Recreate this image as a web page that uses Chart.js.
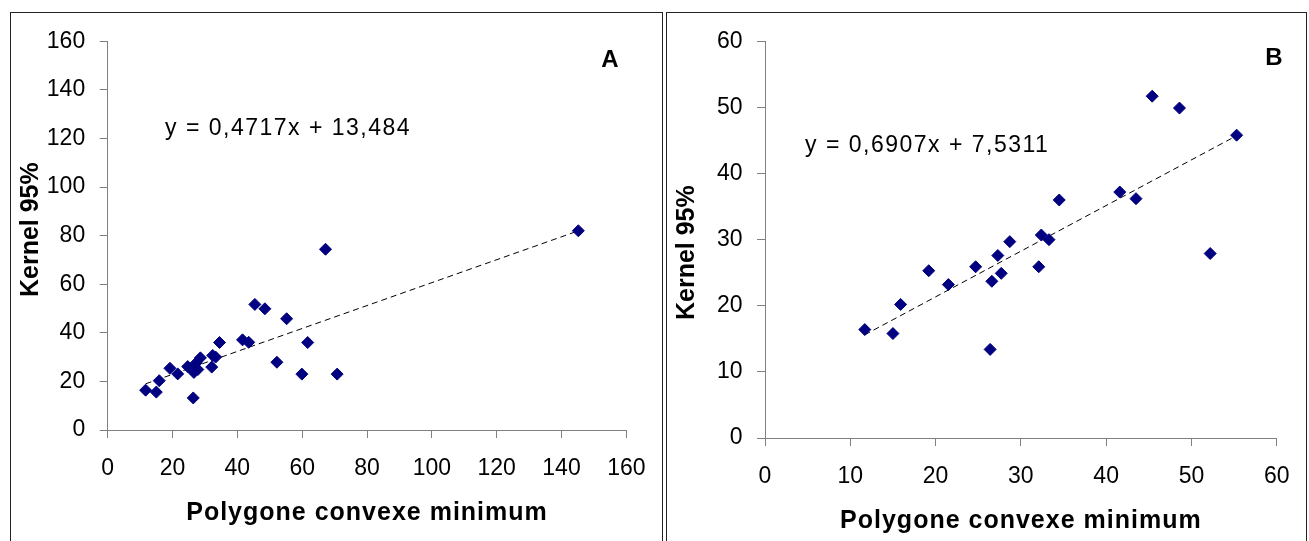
<!DOCTYPE html>
<html>
<head>
<meta charset="utf-8">
<script src="https://cdn.jsdelivr.net/npm/chart.js@4.4.1/dist/chart.umd.min.js"></script>
<style>
html, body { margin: 0; padding: 0; background: #fff; width: 1309px; height: 541px; overflow: hidden; }
.frame { position: absolute; border: 1px solid #222; border-bottom: none; box-sizing: border-box; }
#frameA { left: 10px; top: 12px; width: 653px; height: 540px; }
#frameB { left: 666px; top: 12px; width: 641px; height: 540px; }
canvas { position: absolute; }
#chartA { left: 11px; top: 13px; }
#chartB { left: 667px; top: 13px; }
</style>
</head>
<body>
<div class="frame" id="frameA"></div>
<div class="frame" id="frameB"></div>
<canvas id="chartA" width="651" height="528" style="width:651px;height:528px"></canvas>
<canvas id="chartB" width="639" height="528" style="width:639px;height:528px"></canvas>
<script>
// ---- Data ----
// Panel A : all home ranges
const xA = [11.7, 15.0, 15.9, 19.2, 21.6, 24.7, 26.4, 26.6, 27.3, 27.8, 28.6, 32.1, 32.4, 33.3, 34.5, 41.6, 43.5, 45.4, 48.5, 52.2, 55.2, 59.9, 61.7, 67.2, 70.8, 145.2];
const yA = [16.4, 15.6, 20.3, 25.4, 23.1, 26.1, 13.2, 23.7, 27.6, 24.9, 29.7, 25.9, 30.7, 30.0, 36.0, 37.1, 36.1, 51.7, 49.9, 27.9, 45.8, 23.0, 36.0, 74.4, 23.0, 82.0];
// Panel B : without the largest ranges
const xB = [11.7, 15.0, 15.9, 19.2, 21.5, 24.7, 26.4, 26.6, 27.3, 27.7, 28.7, 32.1, 32.4, 33.3, 34.5, 41.6, 43.5, 45.4, 48.6, 52.2, 55.3];
const yB = [16.4, 15.8, 20.2, 25.3, 23.2, 25.9, 13.4, 23.7, 27.6, 24.9, 29.7, 25.9, 30.7, 30.0, 36.0, 37.2, 36.2, 51.7, 49.9, 27.9, 45.8];

// Linear trend lines as printed on the charts
const slopeA = 0.4717, interceptA = 13.484;
const slopeB = 0.6907, interceptB = 7.5311;

// Tick labels
const ticksA = [0, 20, 40, 60, 80, 100, 120, 140, 160];
const ticksB = [0, 10, 20, 30, 40, 50, 60];

const xTitle = 'Polygone convexe minimum';
const yTitle = 'Kernel 95%';
const panelLabels = ['A', 'B'];

// ---- Rendering ----
const FONT = '"Liberation Sans", Arial, Helvetica, sans-serif';
const fmt = v => String(v).replace('.', ',');

function wrapTitle(scale, spacing, dx, dy) {
  if (!scale || scale._wrapped) return;
  const orig = scale.drawTitle.bind(scale);
  scale.drawTitle = function () {
    const c = this.ctx;
    c.save();
    c.letterSpacing = spacing;
    c.translate(dx, dy);
    orig();
    c.restore();
  };
  scale._wrapped = true;
}

const panelText = {
  id: 'panelText',
  afterLayout(chart, args, o) {
    wrapTitle(chart.scales.x, '1px', 0, 0);
    wrapTitle(chart.scales.y, '0px', 0, o.yTitleShift);
  },
  afterDraw(chart, args, o) {
    const ctx = chart.ctx;
    ctx.save();
    ctx.fillStyle = '#000';
    ctx.textBaseline = 'middle';
    ctx.textAlign = 'left';
    ctx.font = '23px ' + FONT;
    ctx.letterSpacing = '1.5px';
    ctx.fillText(o.equation, o.eqX, o.eqY);
    ctx.letterSpacing = '0px';
    ctx.textAlign = 'center';
    ctx.font = 'bold 24px ' + FONT;
    ctx.fillText(o.label, o.labX, o.labY);
    ctx.restore();
  }
};

function makeChart(id, xs, ys, slope, intercept, ticks, geo, label) {
  const pts = xs.map((x, i) => ({ x: x, y: ys[i] }));
  const xmin = Math.min(...xs), xmax = Math.max(...xs);
  const trend = [xmin, xmax].map(x => ({ x: x, y: slope * x + intercept }));
  const step = ticks[1] - ticks[0];
  const axisCommon = {
    type: 'linear',
    min: ticks[0],
    max: ticks[ticks.length - 1],
    grid: { display: true, drawOnChartArea: false, drawTicks: true, tickLength: 8, color: '#808080', lineWidth: 1 },
    border: { display: true, color: '#808080', width: 1 },
  };
  return new Chart(document.getElementById(id), {
    type: 'scatter',
    data: {
      datasets: [
        {
          label: yTitle,
          data: pts,
          pointStyle: 'rectRot',
          pointRadius: 6,
          pointHoverRadius: 6,
          backgroundColor: '#000080',
          borderColor: '#000080',
          borderWidth: 1,
          showLine: false
        },
        {
          label: 'Linéaire',
          data: trend,
          showLine: true,
          borderColor: '#000000',
          borderWidth: 1,
          borderDash: [6, 4],
          pointRadius: 0,
          fill: false
        }
      ]
    },
    options: {
      responsive: false,
      animation: false,
      devicePixelRatio: 1,
      layout: { padding: { left: 0, top: geo.top, right: geo.right, bottom: 0 } },
      plugins: {
        legend: { display: false },
        tooltip: { enabled: false },
        panelText: {
          equation: 'y = ' + fmt(slope) + 'x + ' + fmt(intercept),
          eqX: geo.eqX, eqY: geo.eqY,
          label: label, labX: geo.labX, labY: geo.labY,
          yTitleShift: geo.yShift
        }
      },
      scales: {
        x: Object.assign({}, axisCommon, {
          position: 'bottom',
          afterFit: s => { s.height = geo.xh; },
          afterBuildTicks: s => { s.ticks = ticks.map(v => ({ value: v })); },
          ticks: { stepSize: step, padding: 16.5, color: '#000', font: { family: FONT, size: 23 } },
          title: { display: true, text: xTitle, color: '#000', font: { family: FONT, size: 25, weight: 'bold' }, padding: { top: 0, bottom: geo.xtb } }
        }),
        y: Object.assign({}, axisCommon, {
          position: 'left',
          afterFit: s => { s.width = geo.yw; },
          afterBuildTicks: s => { s.ticks = ticks.map(v => ({ value: v })); },
          ticks: { stepSize: step, padding: 14.5, color: '#000', font: { family: FONT, size: 23 } },
          title: { display: true, text: yTitle, color: '#000', font: { family: FONT, size: 25, weight: 'bold' }, padding: { top: geo.ytp, bottom: 0 } }
        })
      }
    },
    plugins: [panelText]
  });
}

makeChart('chartA', xA, yA, slopeA, interceptA, ticksA,
  { top: 25.7, right: 26, xh: 111, yw: 96.7, xtb: 13, ytp: 5.6, eqX: 154, eqY: 116, labX: 599, labY: 47.4, yShift: -6 }, panelLabels[0]);
makeChart('chartB', xB, yB, slopeB, interceptB, ticksB,
  { top: 21, right: 23, xh: 103, yw: 98, xtb: 5, ytp: 5, eqX: 138, eqY: 132.5, labX: 606.8, labY: 45.7, yShift: 13 }, panelLabels[1]);
</script>
</body>
</html>
